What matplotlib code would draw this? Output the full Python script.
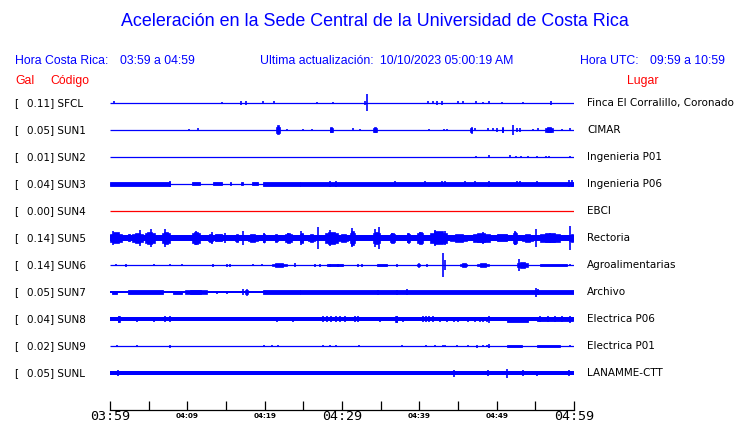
import matplotlib
matplotlib.use("Agg")
import matplotlib.pyplot as plt

# ---------------- data ----------------
codes = ["SFCL", "SUN1", "SUN2", "SUN3", "SUN4", "SUN5", "SUN6", "SUN7", "SUN8", "SUN9", "SUNL"]
gal = [0.11, 0.05, 0.01, 0.04, 0.00, 0.14, 0.14, 0.05, 0.04, 0.02, 0.05]
places = ["Finca El Corralillo, Coronado", "CIMAR", "Ingenieria P01", "Ingenieria P06", "EBCI",
          "Rectoria", "Agroalimentarias", "Archivo", "Electrica P06", "Electrica P01", "LANAMME-CTT"]
trace_colors = ["#0000ff"] * 4 + ["#ff0000"] + ["#0000ff"] * 6

# minutes after 03:59 (time axis 0..60)
tick_minutes = list(range(0, 61, 5))
tick_labels = ["03:59", "", "04:09", "", "04:19", "", "04:29", "", "04:39", "", "04:49", "", "04:59"]

# base (half) amplitude of each trace, relative units (track spacing = 27)
base_amp = [0.5, 0.5, 0.5, 0.6, 0.5, 2.7, 0.5, 0.8, 1.8, 0.5, 1.9]

# bursts: (start minute, end minute, half amplitude)
bursts = {
    "SFCL": [],
    "SUN1": [(21.5, 22.0, 4.5), (28.4, 28.8, 2.5), (34.0, 34.5, 2.5), (46.6, 46.8, 3.0),
             (50.7, 50.8, 2.5), (56.3, 57.3, 2.5)],
    "SUN2": [],
    "SUN3": [(0.0, 7.8, 2.0), (10.6, 11.6, 1.5), (13.3, 14.5, 1.5), (15.5, 15.6, 1.5),
             (16.9, 17.2, 1.5), (18.3, 19.2, 1.5), (19.8, 24.6, 1.8), (24.6, 60.0, 1.7)],
    "SUN4": [],
    "SUN5": [(0.0, 1.6, 5.5), (2.3, 2.6, 3.5), (2.8, 4.3, 5.0), (4.5, 5.8, 6.0), (6.7, 7.8, 6.0),
             (10.6, 11.6, 6.0), (12.7, 13.3, 4.0), (13.6, 14.5, 3.5), (16.2, 16.6, 4.0),
             (17.8, 19.1, 3.8), (19.8, 20.0, 5.0), (21.3, 21.7, 4.0), (22.6, 23.5, 5.0),
             (24.6, 25.0, 5.0), (25.6, 26.5, 4.0), (27.8, 29.5, 6.0), (29.5, 30.8, 3.8),
             (31.0, 31.7, 7.0), (34.0, 34.9, 6.0), (36.2, 36.9, 5.0), (38.4, 38.8, 5.0),
             (39.7, 40.5, 6.0), (41.4, 43.6, 6.5), (44.0, 46.2, 4.0), (46.9, 49.1, 4.5),
             (50.0, 51.3, 3.5), (52.1, 52.6, 6.0), (53.3, 54.7, 4.0), (55.6, 58.2, 4.5),
             (59.4, 60.0, 4.0)],
    "SUN6": [(20.9, 22.9, 1.8), (28.1, 30.1, 1.0), (34.5, 35.8, 1.0), (39.7, 40.1, 1.8),
             (45.3, 46.2, 1.6), (47.5, 49.0, 1.6), (52.6, 54.1, 2.8), (55.6, 59.1, 1.1)],
    "SUN7": [(0.3, 0.9, 1.5), (2.3, 6.9, 2.3), (8.1, 9.3, 1.5), (9.7, 12.5, 2.0),
             (17.5, 17.8, 3.0), (19.8, 24.6, 2.0), (24.6, 60.0, 1.8)],
    "SUN8": [(1.0, 1.3, 3.0), (36.9, 37.1, 3.0), (51.3, 54.1, 2.5), (55.2, 59.9, 2.4)],
    "SUN9": [(51.3, 53.3, 1.4), (55.2, 58.2, 1.2)],
    "SUNL": [],
}

# spikes: (minute, half amplitude)
spikes = {
    "SFCL": [(0.5, 1.5), (14.5, 1.0), (16.9, 2.0), (17.6, 2.0), (19.8, 1.5), (21.2, 1.5),
             (26.8, 1.0), (28.8, 1.0), (33.0, 2.0), (33.2, 8.5), (41.1, 1.5), (41.8, 1.5),
             (42.3, 2.0), (42.9, 2.0), (45.0, 1.5), (45.6, 1.5), (47.3, 1.5), (48.2, 1.0),
             (49.0, 1.5), (50.7, 1.0), (53.4, 1.0), (57.0, 2.0)],
    "SUN1": [(10.2, 1.0), (11.4, 1.5), (22.9, 1.0), (25.0, 1.0), (26.1, 1.0), (31.4, 1.5),
             (32.3, 1.0), (41.3, 1.0), (43.2, 1.0), (43.6, 1.0), (47.2, 1.5), (48.9, 1.5),
             (49.5, 1.5), (50.0, 2.0), (52.1, 5.0), (52.6, 2.0), (53.0, 2.0), (54.7, 1.0),
             (55.3, 1.5), (58.5, 1.0), (59.5, 1.5)],
    "SUN2": [(47.3, 1.0), (49.0, 1.5), (51.7, 1.5), (52.5, 1.0), (53.1, 1.0), (54.1, 1.0),
             (55.2, 1.0), (56.4, 1.0), (56.8, 1.0), (59.5, 1.0)],
    "SUN3": [(7.8, 3.2), (28.4, 3.0), (29.2, 3.0), (36.9, 2.5), (40.7, 2.5), (42.9, 2.5),
             (43.3, 2.5), (45.9, 2.5), (47.2, 2.5), (49.0, 3.0), (52.6, 2.5), (53.0, 2.5),
             (55.2, 2.5), (59.4, 3.5), (59.7, 3.5)],
    "SUN4": [],
    "SUN5": [(0.4, 7.0), (3.9, 8.0), (5.3, 9.0), (7.1, 9.0), (11.1, 7.0), (13.2, 6.0),
             (14.9, 5.0), (17.2, 7.0), (19.9, 5.0), (23.0, 5.0), (24.7, 7.0), (26.9, 11.0),
             (28.4, 8.0), (31.3, 9.5), (34.3, 9.0), (34.8, 11.0), (36.5, 5.0), (38.5, 5.0),
             (40.1, 6.0), (42.0, 8.0), (43.3, 7.0), (48.2, 6.0), (52.4, 7.0), (55.1, 9.0),
             (56.9, 5.0), (59.5, 12.0)],
    "SUN6": [(0.8, 1.0), (2.1, 1.5), (5.7, 1.2), (7.8, 1.0), (9.3, 1.0), (13.3, 1.5),
             (15.1, 1.5), (15.5, 1.5), (18.5, 1.0), (19.7, 1.0), (23.9, 2.0), (26.5, 1.5),
             (27.2, 1.5), (28.4, 1.5), (29.5, 1.5), (32.1, 1.5), (32.6, 1.5), (37.1, 1.5),
             (41.0, 1.5), (43.1, 12.0), (43.3, 5.0), (52.9, 6.0), (59.5, 1.2)],
    "SUN7": [(13.8, 1.5), (15.1, 1.5), (17.2, 3.0), (34.7, 2.5), (37.1, 2.5), (38.4, 3.0),
             (55.1, 4.5), (55.3, 3.0)],
    "SUN8": [(3.5, 2.5), (5.7, 2.5), (7.1, 3.0), (7.8, 3.0), (21.6, 2.5), (23.7, 2.5),
             (27.5, 2.7), (28.1, 2.7), (28.6, 2.7), (29.2, 2.7), (29.8, 2.7), (30.4, 2.7),
             (31.7, 2.7), (32.1, 2.7), (34.9, 2.5), (37.9, 2.5), (40.5, 2.7), (40.9, 3.0),
             (41.3, 2.7), (41.8, 2.7), (42.7, 2.5), (43.6, 2.5), (44.5, 2.5), (45.0, 2.5),
             (46.3, 2.5), (47.2, 2.5), (47.8, 2.5), (48.2, 2.5), (48.8, 2.5), (49.0, 3.5),
             (55.6, 3.0), (56.6, 3.0), (57.6, 3.0), (58.5, 3.0), (59.5, 3.5)],
    "SUN9": [(0.9, 1.2), (3.5, 1.2), (7.8, 1.5), (19.9, 1.0), (20.9, 1.0), (21.7, 1.0),
             (27.5, 1.2), (28.4, 1.2), (29.2, 1.2), (32.2, 1.2), (37.8, 1.0), (40.9, 1.2),
             (42.0, 1.2), (43.1, 1.2), (43.3, 1.2), (44.9, 1.0), (46.3, 1.0), (47.5, 1.5),
             (48.2, 1.2), (48.8, 1.2), (49.0, 1.8), (59.5, 1.2)],
    "SUNL": [(1.0, 3.0), (29.5, 2.3), (39.2, 2.3), (40.6, 2.3), (44.5, 3.5), (48.9, 3.0),
             (51.3, 4.5), (53.4, 3.0), (55.2, 2.5), (59.4, 3.0)],
}

# ---------------- layout ----------------
W, H = 740, 423
SPACING = 27.0
BLUE = "#0000ff"
RED = "#ff0000"


def fx(px):
    return px / W


def fy(py):
    return 1 - py / H


fig = plt.figure(figsize=(W / 100, H / 100), dpi=100)
fig.patch.set_facecolor("white")

ax_left, ax_right, ax_top, ax_bottom = 110, 574, 90, 410
first_track = 103
ax = fig.add_axes([fx(ax_left), fy(ax_bottom), (ax_right - ax_left) / W, (ax_bottom - ax_top) / H])
ax.set_xlim(0, 60)
ax.set_ylim(-(ax_bottom - first_track), (first_track - ax_top))

for i, code in enumerate(codes):
    y0 = -SPACING * i
    col = trace_colors[i]
    b = base_amp[i]
    if b <= 0.6:
        ax.hlines(y0, 0, 60, color=col, lw=0.9)
    else:
        ax.bar(0, 2 * b, width=60, bottom=y0 - b, align="edge", color=col, lw=0)
    for (t0, t1, a) in bursts[code]:
        w = t1 - t0
        if w < 3.0 and a > b + 1.0:
            # stepped spindle: wide low part + narrower full-height core
            a_low = b + 0.6 * (a - b)
            ax.bar(t0, 2 * a_low, width=w, bottom=y0 - a_low, align="edge", color=col,
                   edgecolor=col, lw=0.5)
            ax.bar(t0 + 0.25 * w, 2 * a, width=0.5 * w, bottom=y0 - a, align="edge",
                   color=col, edgecolor=col, lw=0.5)
        else:
            ax.bar(t0, 2 * a, width=w, bottom=y0 - a, align="edge", color=col,
                   edgecolor=col, lw=0.6)
    for (t, a) in spikes[code]:
        ax.vlines(t, y0 - a, y0 + a, color=col, lw=1.2)

for s in ["top", "left", "right"]:
    ax.spines[s].set_visible(False)
ax.spines["bottom"].set_linewidth(0.9)
ax.set_yticks([])
ax.set_xticks(tick_minutes)
ax.set_xticklabels(tick_labels)
ax.tick_params(axis="x", direction="in", length=6.8, width=0.9, pad=4.6, colors="black")
for lab in ax.get_xticklabels():
    txt = lab.get_text()
    lab.set_verticalalignment("center")
    if txt in ("03:59", "04:29", "04:59"):
        lab.set_fontfamily("DejaVu Sans Mono")
        lab.set_fontsize(9.6)
    else:
        lab.set_fontfamily("DejaVu Sans")
        lab.set_fontweight("bold")
        lab.set_fontsize(5.2)

# ---------------- texts ----------------
fig.text(fx(375), fy(22), "Aceleración en la Sede Central de la Universidad de Costa Rica",
         ha="center", va="center", color=BLUE, fontsize=12.9, family="Liberation Sans")

hdr = dict(va="center", color=BLUE, fontsize=8.8, family="Liberation Sans")
fig.text(fx(15), fy(61), "Hora Costa Rica:", **hdr)
fig.text(fx(120), fy(61), "03:59 a 04:59", **hdr)
fig.text(fx(260), fy(61), "Ultima actualización:", **hdr)
fig.text(fx(380), fy(61), "10/10/2023 05:00:19 AM", **hdr)
fig.text(fx(580), fy(61), "Hora UTC:", **hdr)
fig.text(fx(650), fy(61), "09:59 a 10:59", **hdr)

red = dict(va="center", color=RED, fontsize=8.8, family="Liberation Sans")
fig.text(fx(15), fy(81), "Gal", **red)
fig.text(fx(50), fy(81), "Código", **red)
fig.text(fx(627), fy(81), "Lugar", **red)

lab = dict(va="center", color="black", fontsize=7.5, family="DejaVu Sans")
for i, code in enumerate(codes):
    py = first_track + SPACING * i
    fig.text(fx(14), fy(py), "[", **lab)
    fig.text(fx(27), fy(py), f"{gal[i]:.2f}] {code}", **lab)
    fig.text(fx(587), fy(py), places[i], **lab)

fig.savefig("out.png", dpi=100, facecolor="white")
